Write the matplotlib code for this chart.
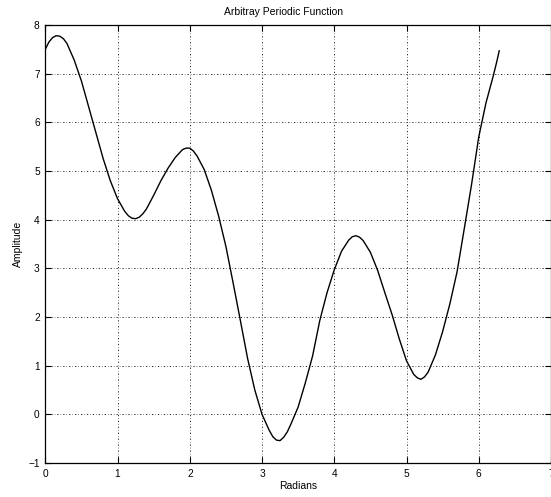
import matplotlib
matplotlib.use("Agg")
import matplotlib.pyplot as plt

# values (extra readings near the turning points)
radians = [0.0, 0.05, 0.1, 0.15, 0.2, 0.25, 0.3, 0.4, 0.5, 0.6, 0.7, 0.8, 0.9,
           1.0, 1.1, 1.15, 1.2, 1.25, 1.3, 1.35, 1.4, 1.5, 1.6, 1.7, 1.8, 1.9,
           1.95, 2.0, 2.05, 2.1, 2.2, 2.3, 2.4, 2.5, 2.6, 2.7, 2.8, 2.9,
           3.0, 3.1, 3.15, 3.2, 3.25, 3.3, 3.35, 3.4, 3.5, 3.6, 3.7, 3.8, 3.9,
           4.0, 4.1, 4.2, 4.25, 4.3, 4.35, 4.4, 4.5, 4.6, 4.7, 4.8, 4.9,
           5.0, 5.1, 5.15, 5.2, 5.25, 5.3, 5.4, 5.5, 5.6, 5.7, 5.8, 5.9,
           6.0, 6.1, 6.2, 6.25, 6.283]
amplitude = [7.50, 7.65, 7.74, 7.78, 7.77, 7.72, 7.62, 7.28, 6.85, 6.32, 5.79, 5.26, 4.80,
             4.43, 4.17, 4.08, 4.03, 4.02, 4.05, 4.12, 4.22, 4.50, 4.80, 5.06, 5.28, 5.44,
             5.47, 5.47, 5.41, 5.31, 5.03, 4.60, 4.07, 3.45, 2.70, 1.93, 1.15, 0.50,
             0.00, -0.33, -0.46, -0.53, -0.54, -0.47, -0.36, -0.20, 0.15, 0.65, 1.20, 1.93, 2.50,
             2.97, 3.35, 3.58, 3.65, 3.67, 3.64, 3.57, 3.33, 2.96, 2.50, 2.05, 1.55,
             1.10, 0.82, 0.75, 0.72, 0.77, 0.87, 1.22, 1.70, 2.27, 2.93, 3.82, 4.72,
             5.70, 6.40, 6.95, 7.25, 7.47]

xticks = [0, 1, 2, 3, 4, 5, 6, 7]
yticks = [-1, 0, 1, 2, 3, 4, 5, 6, 7, 8]

plt.rcParams["font.family"] = ["Liberation Sans", "DejaVu Sans"]
plt.rcParams["font.size"] = 7

fig = plt.figure(figsize=(5.51, 4.97), dpi=100)
ax = fig.add_axes([0.0822, 0.0684, 0.9178, 0.8813])

ax.plot(radians, amplitude, color="black", linewidth=1.0)

ax.set_xlim(0, 7)
ax.set_ylim(-1, 8)
ax.set_xticks(xticks)
ax.set_yticks(yticks)
ax.tick_params(direction="in", top=True, right=True, length=4, width=0.8,
               labelsize=7.3, pad=4)
for s in ax.spines.values():
    s.set_linewidth(0.9)

ax.grid(True, color="black", linewidth=0.6, linestyle=(0, (1.5, 2.5, 0.6, 2.5)))

ax.set_xlabel("Radians", fontsize=7.5, labelpad=2)
ax.set_ylabel("Amplitude", fontsize=7.5, labelpad=4)
fig.text(283 / 551, 1 - 11.7 / 497, "Arbitray Periodic Function",
         ha="center", va="center", fontsize=7.5)

fig.savefig("out.png", dpi=100)
